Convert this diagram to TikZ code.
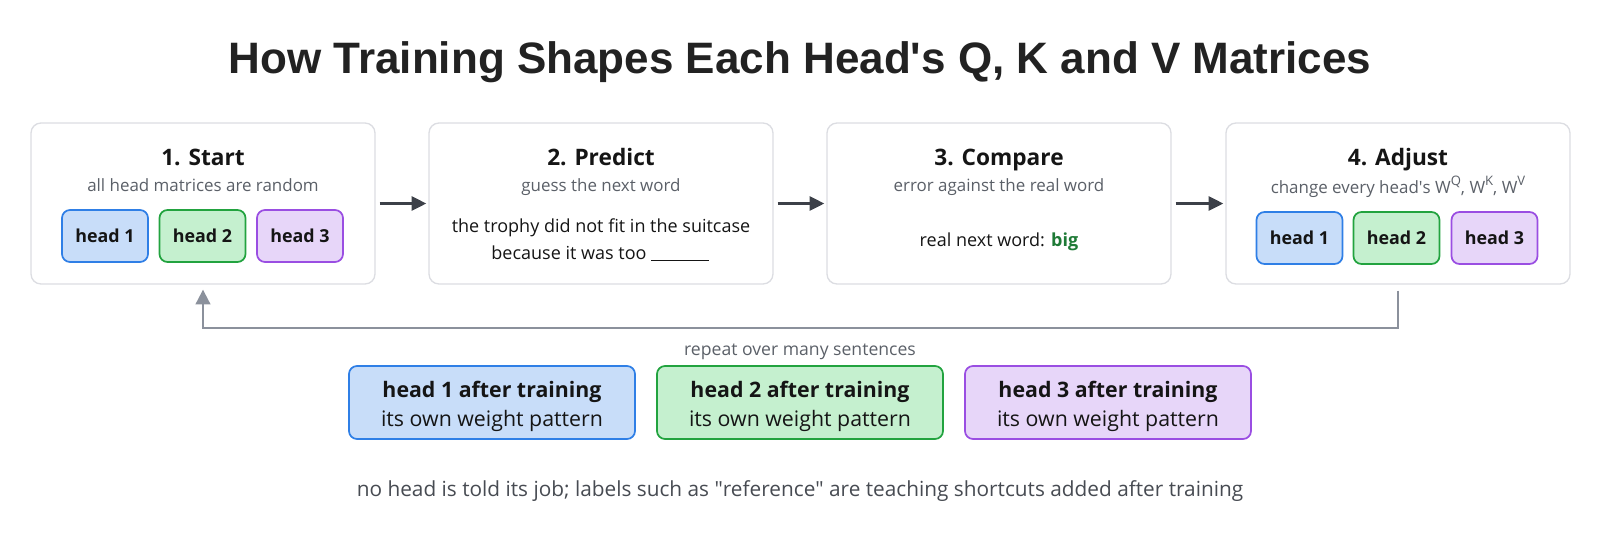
\documentclass[tikz,border=0pt]{standalone}
\usepackage{fontspec}
\setmainfont{Open Sans}
\newfontfamily\titlefont{Liberation Sans}
\usetikzlibrary{arrows.meta}

\definecolor{titleink}{HTML}{222222}
\definecolor{bodyink}{HTML}{151515}
\definecolor{boxline}{HTML}{DCDDE2}
\definecolor{subgray}{HTML}{5B6068}
\definecolor{footink}{HTML}{474B52}
\definecolor{arrowdark}{HTML}{3C4048}
\definecolor{loopgray}{HTML}{8B919C}
\definecolor{blueline}{HTML}{2F7FE6}
\definecolor{bluefill}{HTML}{C8DDF9}
\definecolor{greenline}{HTML}{22A33F}
\definecolor{greenfill}{HTML}{C5F0CF}
\definecolor{purpleline}{HTML}{9A4EE2}
\definecolor{purplefill}{HTML}{E7D6F9}
\definecolor{bigcolor}{HTML}{1E7A36}

\newcommand{\wsup}[1]{\raisebox{0.42em}{\fontsize{9.8}{11}\selectfont #1}}
\newcommand{\toplift}{\rule{0pt}{18pt}}

\tikzset{
  stage/.style={draw=boxline, line width=1pt, fill=white, rounded corners=7.5pt,
    minimum width=258pt, minimum height=120.75pt},
  stagetitle/.style={anchor=base, text=bodyink, font=\bfseries\fontsize{17}{20}\selectfont},
  stagenote/.style={anchor=base, text=subgray, font=\fontsize{12.7}{15}\selectfont},
  sentence/.style={anchor=base, text=bodyink, font=\fontsize{13.5}{16}\selectfont},
  headbox/.style={draw=#1line, fill=#1fill, line width=1.3pt, rounded corners=6pt,
    minimum width=64.5pt, minimum height=39pt, text=bodyink,
    font=\bfseries\fontsize{13.4}{16}\selectfont},
  trained/.style={draw=#1line, fill=#1fill, line width=1.3pt, rounded corners=6pt,
    minimum width=214.5pt, minimum height=54.75pt, align=center, text=bodyink,
    font=\fontsize{16}{21}\selectfont},
  flow/.style={draw=arrowdark, line width=1.9pt,
    -{Triangle[length=11pt,width=10.5pt]}, shorten <=3pt, shorten >=1.5pt},
  loopback/.style={draw=loopgray, line width=1.5pt,
    -{Triangle[length=11pt,width=11pt]}, shorten <=4.5pt, shorten >=3.75pt},
  note/.style={anchor=base, text=subgray, font=\fontsize{13.2}{16}\selectfont}
}

\begin{document}
\begin{tikzpicture}[x=0.75pt, y=-0.75pt]
  \useasboundingbox (0,0) rectangle (1600,537);

  \node[anchor=base, text=titleink, font=\titlefont\bfseries\fontsize{33}{38}\selectfont]
    (title) at (800,73) {How Training Shapes Each Head\textquotesingle s Q, K and V Matrices};

  % the four steps
  \node[stage] (start) at (203,203.5) {};
  \node[stage] (predict) at (601,203.5) {};
  \node[stage] (compare) at (999,203.5) {};
  \node[stage] (adjust) at (1398,203.5) {};

  \node[stagetitle] (starttitle) at (203,165) {1. Start};
  \node[stagenote] (startnote) at (203,191) {all head matrices are random};
  \node[headbox=blue] (starthead1) at (105,236) {head 1};
  \node[headbox=green] (starthead2) at (202.5,236) {head 2};
  \node[headbox=purple] (starthead3) at (300,236) {head 3};

  \node[stagetitle] (predicttitle) at (601,165) {2. Predict};
  \node[stagenote] (predictnote) at (601,191) {guess the next word};
  \node[sentence] (sentence1) at (601,232) {the trophy did not fit in the suitcase};
  \node[sentence] (sentence2) at (600,259)
    {because it was too \rule[-1.5pt]{43pt}{1pt}};

  \node[stagetitle] (comparetitle) at (999,165) {3. Compare};
  \node[stagenote] (comparenote) at (999,191) {error against the real word};
  \node[sentence] (answer) at (999,246)
    {real next word: \textcolor{bigcolor}{\bfseries big}};

  \node[stagetitle] (adjusttitle) at (1398,165) {4. Adjust};
  \node[stagenote] (adjustnote) at (1398,193)
    {change every head\textquotesingle s W\wsup{Q}, W\wsup{K}, W\wsup{V}};
  \node[headbox=blue] (adjusthead1) at (1299.5,238) {head 1};
  \node[headbox=green] (adjusthead2) at (1396.5,238) {head 2};
  \node[headbox=purple] (adjusthead3) at (1494.5,238) {head 3};

  \draw[flow] (start) -- (predict);
  \draw[flow] (predict) -- (compare);
  \draw[flow] (compare) -- (adjust);

  % loop back to the start
  \draw[loopback] (adjust.south) -- ++(0,43) -| (start.south);
  \node[note] (repeat) at (800,355) {repeat over many sentences};

  % what comes out
  \node[trained=blue] (trained1) at (492,402.5)
    {\toplift\bfseries head 1 after training\\[1pt]its own weight pattern};
  \node[trained=green] (trained2) at (800,402.5)
    {\toplift\bfseries head 2 after training\\[1pt]its own weight pattern};
  \node[trained=purple] (trained3) at (1108,402.5)
    {\toplift\bfseries head 3 after training\\[1pt]its own weight pattern};

  \node[anchor=base, text=footink, font=\fontsize{15.6}{19}\selectfont] (footer) at (800,496)
    {no head is told its job; labels such as \textquotedbl reference\textquotedbl{} are teaching shortcuts added after training};
\end{tikzpicture}
\end{document}
